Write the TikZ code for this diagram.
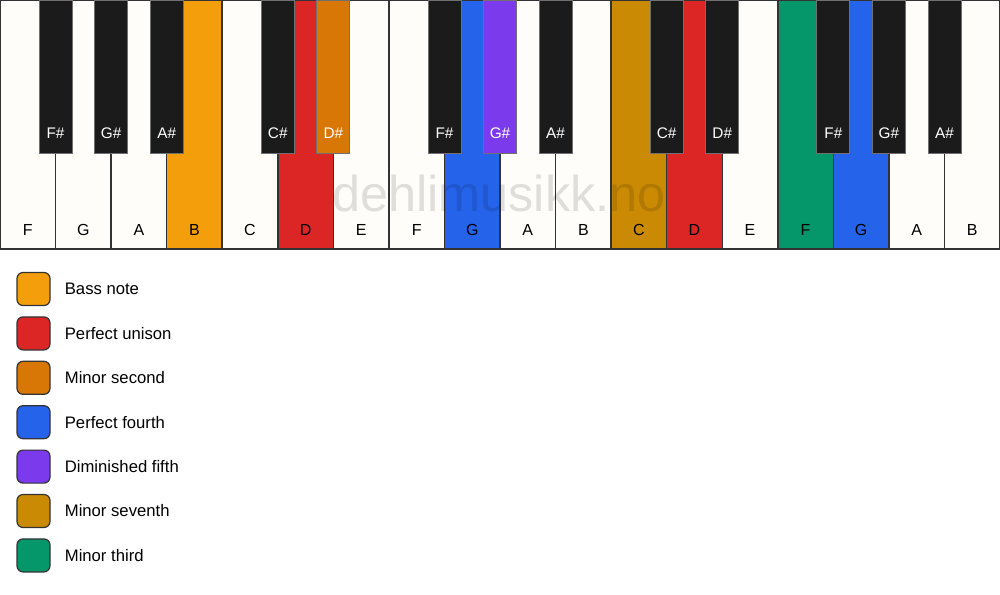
\documentclass[tikz,border=0pt]{standalone}
\usepackage{fontspec}
\setmainfont{Liberation Sans}
\usetikzlibrary{positioning}

\definecolor{keyivory}{HTML}{FEFDF9}
\definecolor{keyblack}{HTML}{1B1B1B}
\definecolor{keyline}{HTML}{333333}
\definecolor{bassnote}{HTML}{F59E0B}
\definecolor{unison}{HTML}{DC2626}
\definecolor{second}{HTML}{D97706}
\definecolor{fourth}{HTML}{2563EB}
\definecolor{dimfifth}{HTML}{7C3AED}
\definecolor{seventh}{HTML}{CA8A04}
\definecolor{third}{HTML}{059669}

\tikzset{
  whitekey/.style = {draw=keyline, line width=1.1pt},
  blackkey/.style = {draw=keyline!70, line width=0.6pt},
  keylabel/.style = {font=\fontsize{12}{14}\selectfont, text=black, inner sep=0pt},
  sharplabel/.style = {font=\fontsize{11.5}{13}\selectfont, text=white, inner sep=0pt},
  watermark/.style = {font=\fontsize{37.8}{40}\selectfont, text=black, text opacity=0.12, inner sep=0pt},
  legendbox/.style = {draw=keyline, line width=0.9pt, rounded corners=4.5pt,
    minimum width=24.75pt, minimum height=24.75pt, inner sep=0pt},
  legendtext/.style = {font=\fontsize{12.5}{14}\selectfont, text=black, inner sep=0pt}
}

\begin{document}
\begin{tikzpicture}[x=0.75pt, y=-0.75pt]
    \useasboundingbox (0,0) rectangle (1000,594);

    % White keys
    \foreach \n/\c [count=\i from 0] in {F/keyivory, G/keyivory, A/keyivory, B/bassnote,
        C/keyivory, D/unison, E/keyivory, F/keyivory, G/fourth, A/keyivory, B/keyivory,
        C/seventh, D/unison, E/keyivory, F/third, G/fourth, A/keyivory, B/keyivory}{
        \draw[whitekey, fill=\c] ({\i*55.556}, 0) rectangle ({(\i+1)*55.556}, 249);
        \node[keylabel] (w\i) at ({(\i+0.5)*55.556}, 230) {\n};
    }

    % Watermark
    \node[watermark] (mark) at (499, 193) {dehlimusikk.no};

    % Black keys
    \foreach \k/\n/\c in {1/F\#/keyblack, 2/G\#/keyblack, 3/A\#/keyblack,
        5/C\#/keyblack, 6/D\#/second, 8/F\#/keyblack, 9/G\#/dimfifth, 10/A\#/keyblack,
        12/C\#/keyblack, 13/D\#/keyblack, 15/F\#/keyblack, 16/G\#/keyblack, 17/A\#/keyblack}{
        \draw[blackkey, fill=\c] ({\k*55.556-16.5}, 0) rectangle ({\k*55.556+16.5}, 153);
        \node[sharplabel] (b\k) at ({\k*55.556}, 133) {\n};
    }

    % Legend
    \foreach \c/\t [count=\i from 0] in {bassnote/Bass note, unison/Perfect unison,
        second/Minor second, fourth/Perfect fourth, dimfifth/Diminished fifth,
        seventh/Minor seventh, third/Minor third}{
        \node[legendbox, fill=\c] (box\i) at (33.5, {289+44.4*\i}) {};
        \node[legendtext, right=10.5pt of box\i] (txt\i) {\t};
    }

\end{tikzpicture}
\end{document}
